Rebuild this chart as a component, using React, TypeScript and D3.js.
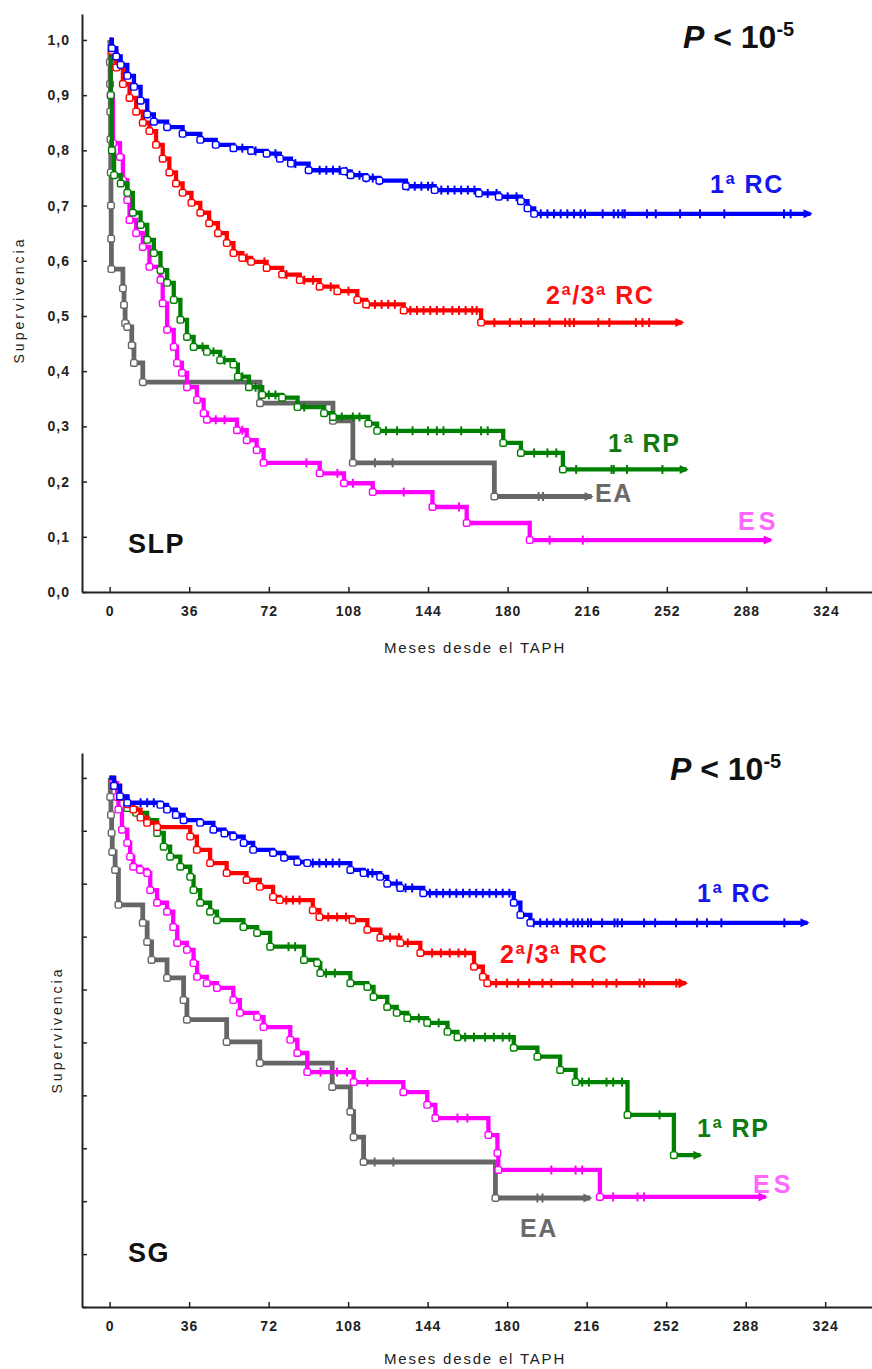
import React, { useRef, useEffect } from 'react';
import * as d3 from 'd3';

type Pt = [number, number];

// ---- SLP (top panel): [month, survival] at each step ----
const slpRC1: Pt[] = [[0, 1], [1, 0.985], [3, 0.97], [5, 0.955], [8, 0.935], [11, 0.915], [14, 0.89], [17, 0.865], [20, 0.852], [26, 0.842], [33, 0.83], [41, 0.819], [48, 0.81], [56, 0.804], [64, 0.799], [71, 0.794], [77, 0.785], [82, 0.776], [90, 0.764], [106, 0.762], [109, 0.755], [116, 0.75], [122, 0.745], [134, 0.735], [147, 0.728], [167, 0.722], [176, 0.716], [186, 0.708], [189, 0.695], [192, 0.685]];
const slpRC23: Pt[] = [[0, 1], [1, 0.98], [3, 0.95], [6, 0.92], [9, 0.895], [12, 0.87], [15, 0.85], [18, 0.835], [21, 0.81], [24, 0.785], [27, 0.76], [30, 0.74], [33, 0.723], [37, 0.705], [41, 0.687], [45, 0.668], [49, 0.65], [53, 0.632], [56, 0.614], [60, 0.605], [64, 0.598], [71, 0.587], [78, 0.575], [86, 0.565], [95, 0.553], [103, 0.545], [112, 0.529], [116, 0.521], [133, 0.51], [168, 0.488]];
const slpRP1: Pt[] = [[0, 1], [0.5, 0.9], [1, 0.8], [2, 0.755], [5, 0.74], [8, 0.723], [10.5, 0.687], [14, 0.665], [17, 0.638], [20, 0.614], [23, 0.583], [26, 0.56], [29, 0.529], [32, 0.493], [35, 0.462], [38, 0.444], [44, 0.435], [50, 0.42], [56, 0.412], [58, 0.39], [63, 0.371], [69, 0.357], [78, 0.352], [85, 0.335], [97, 0.324], [101, 0.317], [117, 0.305], [121, 0.292], [178, 0.27], [186, 0.252], [205, 0.222]];
const slpEA: Pt[] = [[0, 1], [0.1, 0.96], [0.2, 0.92], [0.3, 0.87], [0.4, 0.82], [0.5, 0.76], [0.6, 0.7], [0.7, 0.64], [0.8, 0.585], [6, 0.55], [6.5, 0.52], [7, 0.487], [8, 0.48], [10, 0.447], [11, 0.415], [15, 0.38], [68, 0.342], [101, 0.31], [110, 0.234], [174, 0.173]];
const slpES: Pt[] = [[0, 1], [0.5, 0.9], [1.5, 0.813], [4.7, 0.788], [6, 0.746], [8, 0.71], [9, 0.674], [12, 0.65], [15, 0.625], [18, 0.589], [23, 0.565], [24, 0.523], [26, 0.475], [29, 0.444], [30.5, 0.415], [32.7, 0.397], [35, 0.371], [39.5, 0.348], [42.5, 0.324], [44, 0.312], [57.6, 0.293], [62, 0.275], [66.5, 0.257], [69.6, 0.234], [95, 0.215], [106, 0.197], [119, 0.181], [146, 0.154], [161.5, 0.125], [190, 0.094]];

// last follow-up (months) for each curve
const slpEnds = { rc1: 317, rc23: 259, rp1: 261, ea: 218, es: 299 };

// censored times (months)
const slpRC1Cens = [60, 66, 75, 84, 95, 98, 101, 104, 107, 113, 116, 119, 122, 135, 138, 141, 144, 146, 150, 153, 156, 159, 162, 165, 171, 175, 180, 184, 195, 198, 201, 204, 207, 210, 213, 215, 223, 228, 230, 232, 233, 243, 247, 258, 267, 278, 305, 308];
const slpRC23Cens = [62, 70, 80, 88, 92, 100, 108, 117, 120, 123, 126, 129, 136, 139, 142, 145, 148, 151, 155, 158, 161, 164, 166, 174, 181, 186, 192, 199, 206, 208, 210, 221, 226, 238, 241, 244];
const slpRP1Cens = [42, 47, 52, 60, 66, 72, 75, 88, 105, 110, 113, 125, 130, 137, 144, 148, 151, 159, 168, 171, 192, 198, 202, 211, 227, 228, 234, 250];
const slpEACens = [120, 128, 194, 196];
const slpESCens = [48, 52, 60, 89, 103, 110, 133, 158, 199, 214];

// ---- SG (bottom panel) ----
const sgRC1: Pt[] = [[0, 1], [2, 0.985], [4.7, 0.965], [8, 0.953], [23, 0.949], [26, 0.94], [30, 0.93], [33.5, 0.92], [41, 0.915], [47, 0.902], [52, 0.895], [56, 0.889], [60.7, 0.877], [65, 0.864], [74, 0.858], [79, 0.849], [85, 0.841], [89.5, 0.839], [109, 0.826], [115, 0.82], [122.5, 0.813], [125.7, 0.8], [131.6, 0.792], [142, 0.782], [183, 0.764], [186, 0.741], [190.5, 0.726]];
const sgRC23: Pt[] = [[0, 1], [2, 0.985], [4.7, 0.964], [8, 0.95], [10.7, 0.94], [14, 0.925], [17, 0.915], [21.5, 0.907], [36.5, 0.889], [39.5, 0.864], [45.5, 0.839], [53, 0.82], [62, 0.807], [68, 0.794], [74, 0.775], [77, 0.769], [92, 0.75], [95, 0.737], [110, 0.731], [116.7, 0.713], [122.6, 0.698], [131.6, 0.688], [140.7, 0.669], [165, 0.643], [169, 0.624], [171, 0.612]];
const sgRP1: Pt[] = [[0, 1], [2, 0.985], [4.7, 0.964], [8, 0.943], [12, 0.934], [17, 0.92], [21.5, 0.896], [24.5, 0.87], [27.4, 0.851], [32, 0.832], [36.5, 0.813], [38, 0.788], [41, 0.764], [45.5, 0.747], [48.6, 0.731], [60.6, 0.718], [66.8, 0.707], [72.7, 0.681], [88, 0.656], [94, 0.65], [95.4, 0.631], [109, 0.612], [116.7, 0.605], [119.5, 0.586], [125.7, 0.567], [130, 0.556], [134.8, 0.546], [143.8, 0.537], [153, 0.52], [157.5, 0.51], [183, 0.49], [193.7, 0.473], [204, 0.448], [211, 0.425], [234.5, 0.363], [255.5, 0.287]];
const sgEA: Pt[] = [[0, 1], [0.3, 0.964], [0.6, 0.93], [0.9, 0.896], [1.2, 0.86], [2.5, 0.826], [4, 0.76], [15, 0.726], [17, 0.69], [19, 0.656], [26, 0.622], [33.5, 0.58], [35, 0.543], [53, 0.501], [68, 0.461], [100.8, 0.416], [109, 0.369], [110.5, 0.321], [115, 0.274], [174.7, 0.206]];
const sgES: Pt[] = [[0, 1], [1.6, 0.99], [3.4, 0.964], [4, 0.94], [5.6, 0.902], [8, 0.877], [9.3, 0.851], [10.7, 0.832], [13.8, 0.826], [17, 0.82], [18.4, 0.788], [21.5, 0.764], [26, 0.747], [28.8, 0.718], [30.6, 0.688], [35, 0.675], [38, 0.65], [39.6, 0.624], [44, 0.612], [48.6, 0.603], [56, 0.58], [59, 0.556], [66.8, 0.548], [69.7, 0.529], [81.8, 0.505], [85, 0.48], [89.5, 0.444], [110.5, 0.425], [133, 0.406], [143.8, 0.382], [147.5, 0.357], [171.5, 0.325], [175.6, 0.291], [176, 0.259], [222, 0.208]];

const sgEnds = { rc1: 316, rc23: 261, rp1: 267.5, ea: 217.7, es: 297 };

const sgRC1Cens = [14, 17, 20, 92, 95, 98, 101, 104, 117, 119, 130, 134, 137, 145, 148, 151, 154, 157, 160, 163, 166, 169, 172, 175, 178, 181, 192, 195, 198, 201, 204, 207, 210, 212, 214, 216.6, 218, 223, 228.6, 230, 232, 242, 247, 256.5, 266, 270.5, 277, 305.5];
const sgRC23Cens = [80, 83, 86, 99, 103, 107, 127, 131, 135, 146, 150, 154, 158, 161, 175, 180, 185, 190, 196, 200, 209.5, 218.7, 225, 229.5, 240, 242, 256.6, 258];
const sgRP1Cens = [81, 84, 98, 102, 136, 140, 145, 149, 161, 165, 170, 174, 178, 181, 214, 217, 225, 228, 232, 249];
const sgEACens = [120, 128.5, 193.7, 196];
const sgESCens = [95.5, 103, 107.5, 116.7, 157.5, 162, 200, 211, 214, 228, 239, 242];

const xTicks = [0, 36, 72, 108, 144, 180, 216, 252, 288, 324];
const yTicks = [0, 0.1, 0.2, 0.3, 0.4, 0.5, 0.6, 0.7, 0.8, 0.9, 1.0];
const yTickLabels = ['0,0', '0,1', '0,2', '0,3', '0,4', '0,5', '0,6', '0,7', '0,8', '0,9', '1,0'];

const groupNames = { rc1: '1ª RC', rc23: '2ª/3ª RC', rp1: '1ª RP', ea: 'EA', es: 'ES' };
const lineColors = { rc1: '#0000ff', rc23: '#ff0000', rp1: '#008000', ea: '#666666', es: '#ff00ff' };
const labelColors = { rc1: '#1515f0', rc23: '#ff1010', rp1: '#107a10', ea: '#6a6a6a', es: '#ff66ff' };

const FONT = '"Liberation Sans", Arial, sans-serif';

const panels = [
  {
    name: 'SLP',
    yRange: [592, 14], xRange: [82, 872], xDomain: [-12.5, 344.8],
    showYLabels: true, yTitleX: 20, yTitleY: 300, xLabelY: 618, xTitleY: 653,
    series: {
      ea: { pts: slpEA, end: slpEnds.ea, cens: slpEACens, lx: 595, ly: 502 },
      es: { pts: slpES, end: slpEnds.es, cens: slpESCens, lx: 738, ly: 530 },
      rp1: { pts: slpRP1, end: slpEnds.rp1, cens: slpRP1Cens, lx: 608, ly: 452 },
      rc23: { pts: slpRC23, end: slpEnds.rc23, cens: slpRC23Cens, lx: 546, ly: 304 },
      rc1: { pts: slpRC1, end: slpEnds.rc1, cens: slpRC1Cens, lx: 710, ly: 193 },
    },
    pX: 683, pY: 48, tagX: 128, tagY: 553,
  },
  {
    name: 'SG',
    yRange: [1307, 753], xRange: [82, 872], xDomain: [-12.5, 345.2],
    showYLabels: false, yTitleX: 58, yTitleY: 1030, xLabelY: 1333, xTitleY: 1364,
    series: {
      ea: { pts: sgEA, end: sgEnds.ea, cens: sgEACens, lx: 520, ly: 1237 },
      es: { pts: sgES, end: sgEnds.es, cens: sgESCens, lx: 753, ly: 1193 },
      rp1: { pts: sgRP1, end: sgEnds.rp1, cens: sgRP1Cens, lx: 697, ly: 1137 },
      rc23: { pts: sgRC23, end: sgEnds.rc23, cens: sgRC23Cens, lx: 500, ly: 963 },
      rc1: { pts: sgRC1, end: sgEnds.rc1, cens: sgRC1Cens, lx: 697, ly: 902 },
    },
    pX: 670, pY: 780, tagX: 128, tagY: 1262,
  },
];

function survAt(pts: Pt[], m: number) {
  let v = pts[0][1];
  for (const p of pts) if (p[0] <= m) v = p[1];
  return v;
}

function App() {
  const svgRef = useRef<SVGSVGElement>(null);

  useEffect(() => {
    if (svgRef.current === null) return;
    const svg = d3.select(svgRef.current);
    svg.selectAll('*').remove();

    panels.forEach(p => {
      const g = svg.append('g');
      const x = d3.scaleLinear().domain(p.xDomain).range(p.xRange);
      const y = d3.scaleLinear().domain([0, 1.047]).range(p.yRange);

      // y axis, ticks pointing inward
      const yAxis = g.append('g')
        .attr('transform', `translate(${p.xRange[0]},0)`)
        .call(
          d3.axisLeft(y)
            .tickValues(yTicks)
            .tickSizeInner(-5)
            .tickSizeOuter(0)
            .tickPadding(12)
            .tickFormat((d, i) => (p.showYLabels ? yTickLabels[i] : ''))
        );
      yAxis.select('.domain').attr('stroke', '#222').attr('stroke-width', 2);
      yAxis.selectAll('.tick line').attr('stroke', '#222').attr('stroke-width', 1.5);
      yAxis.selectAll('.tick text')
        .attr('font-family', FONT).attr('font-size', 14).attr('font-weight', 'bold')
        .attr('fill', '#222').attr('letter-spacing', 1);

      // x axis
      const xAxis = g.append('g')
        .attr('transform', `translate(0,${p.yRange[0]})`)
        .call(
          d3.axisBottom(x)
            .tickValues(xTicks)
            .tickSizeInner(-5)
            .tickSizeOuter(0)
            .tickPadding(14)
        );
      xAxis.select('.domain').attr('stroke', '#222').attr('stroke-width', 2);
      xAxis.selectAll('.tick line').attr('stroke', '#222').attr('stroke-width', 1.5);
      xAxis.selectAll('.tick text')
        .attr('font-family', FONT).attr('font-size', 14).attr('font-weight', 'bold')
        .attr('fill', '#222').attr('letter-spacing', 1);

      // axis titles
      g.append('text')
        .attr('transform', `translate(${p.yTitleX},${p.yTitleY}) rotate(-90)`)
        .attr('text-anchor', 'middle').attr('dominant-baseline', 'middle')
        .attr('font-family', FONT).attr('font-size', 14).attr('letter-spacing', 3)
        .attr('fill', '#222')
        .text('Supervivencia');
      g.append('text')
        .attr('x', 475).attr('y', p.xTitleY).attr('text-anchor', 'middle')
        .attr('font-family', FONT).attr('font-size', 15).attr('letter-spacing', 1.8)
        .attr('fill', '#222')
        .text('Meses desde el TAPH');

      const line = d3.line<Pt>()
        .x(d => x(d[0]))
        .y(d => y(d[1]))
        .curve(d3.curveStepAfter);

      (['ea', 'es', 'rp1', 'rc23', 'rc1'] as const).forEach(key => {
        const s = p.series[key];
        const color = lineColors[key];
        const last = s.pts[s.pts.length - 1][1];
        const full: Pt[] = [...s.pts, [s.end, last]];
        const sg = g.append('g');

        sg.append('path')
          .datum(full)
          .attr('d', line)
          .attr('fill', 'none')
          .attr('stroke', color)
          .attr('stroke-width', key === 'ea' ? 4.8 : 4.3);

        // censored marks
        sg.selectAll('.cens')
          .data(s.cens)
          .enter()
          .append('line')
          .attr('x1', d => x(d)).attr('x2', d => x(d))
          .attr('y1', d => y(survAt(s.pts, d)) - 4.5)
          .attr('y2', d => y(survAt(s.pts, d)) + 4.5)
          .attr('stroke', color).attr('stroke-width', 2);

        // events: open markers
        sg.selectAll('.ev')
          .data(s.pts.slice(1))
          .enter()
          .append('rect')
          .attr('x', d => x(d[0]) - 3.3).attr('y', d => y(d[1]) - 3.3)
          .attr('width', 6.6).attr('height', 6.6).attr('rx', 1.8)
          .attr('fill', '#fff').attr('stroke', color).attr('stroke-width', 1.4);

        // arrow at last follow-up
        const ex = x(s.end), ey = y(last);
        sg.append('path')
          .attr('d', `M${ex + 2},${ey} L${ex - 7},${ey - 4.5} L${ex - 7},${ey + 4.5} Z`)
          .attr('fill', color);

        g.append('text')
          .attr('x', s.lx).attr('y', s.ly)
          .attr('font-family', FONT).attr('font-size', 25).attr('font-weight', 'bold')
          .attr('letter-spacing', key === 'es' ? 4 : 1.5)
          .attr('fill', labelColors[key])
          .text(groupNames[key]);
      });

      // p-value
      const pt = g.append('text')
        .attr('x', p.pX).attr('y', p.pY)
        .attr('font-family', FONT).attr('font-size', 32).attr('font-weight', 'bold')
        .attr('fill', '#111');
      pt.append('tspan').attr('font-style', 'italic').text('P');
      pt.append('tspan').text(' < 10');
      pt.append('tspan').attr('font-size', 20).attr('dy', -12).text('-5');

      // panel tag
      g.append('text')
        .attr('x', p.tagX).attr('y', p.tagY)
        .attr('font-family', FONT).attr('font-size', 27).attr('font-weight', 'bold')
        .attr('letter-spacing', 1.5)
        .attr('fill', '#111')
        .text(p.name);
    });
  }, []);

  return (
    <div style={{ position: 'absolute', left: 0, top: 0 }}>
      <svg ref={svgRef} width={872} height={1369} style={{ display: 'block', background: '#fff' }} />
    </div>
  );
}

export default App;
